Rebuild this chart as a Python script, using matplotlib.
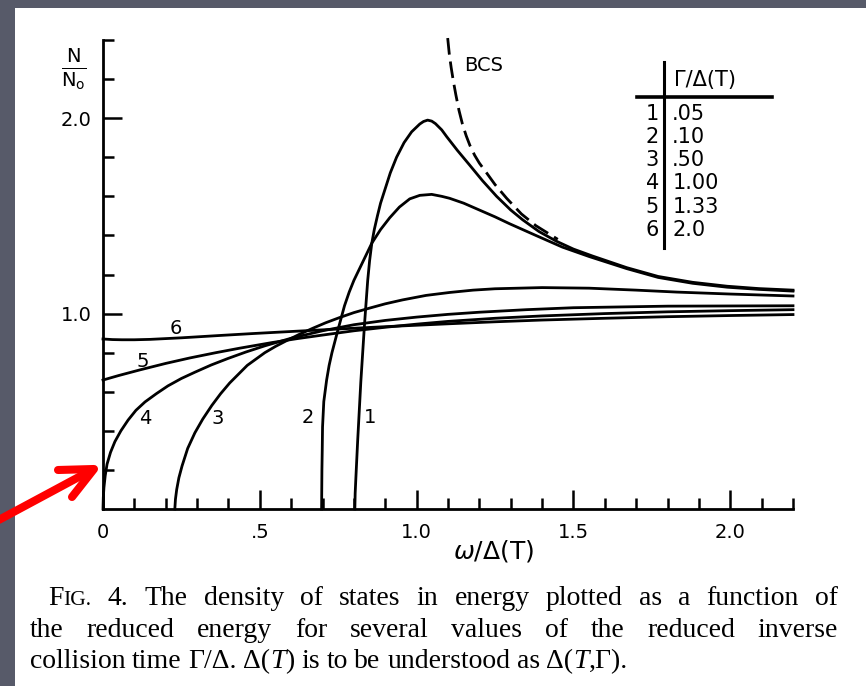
import numpy as np
import matplotlib.pyplot as plt
from matplotlib.patches import Rectangle
from matplotlib.lines import Line2D
"""
Density of states N/N0 vs reduced energy for several Gamma/Delta values
(scanned figure on a slide), redrawn by hand.
"""

# curves: omega/Delta(T) and N/N0
w1 = [0.803, 0.804, 0.806, 0.809, 0.812, 0.817, 0.822, 0.828, 0.834, 0.839, 0.844, 0.850, 0.857,
      0.865, 0.875, 0.885, 0.898, 0.916, 0.936, 0.96, 0.984, 1.01, 1.022, 1.035, 1.048, 1.06,
      1.08, 1.096, 1.13, 1.169, 1.21, 1.255, 1.30, 1.338, 1.39, 1.446, 1.50, 1.56, 1.67, 1.77,
      1.88, 1.99, 2.09, 2.2]
n1 = [0.0, 0.08, 0.15, 0.25, 0.35, 0.50, 0.65, 0.80, 0.95, 1.06, 1.17, 1.27, 1.36,
      1.43, 1.50, 1.565, 1.63, 1.72, 1.80, 1.875, 1.93, 1.97, 1.983, 1.99, 1.985, 1.972,
      1.94, 1.905, 1.835, 1.76, 1.68, 1.60, 1.53, 1.48, 1.42, 1.37, 1.33, 1.295, 1.235, 1.19,
      1.16, 1.14, 1.128, 1.12]

w2 = [0.697, 0.6975, 0.698, 0.699, 0.700, 0.704, 0.713, 0.721, 0.730, 0.748, 0.770, 0.785,
      0.800, 0.815, 0.830, 0.857, 0.885, 0.914, 0.945, 0.978, 1.01, 1.048, 1.08, 1.105, 1.15,
      1.20, 1.25, 1.296, 1.38, 1.465, 1.55, 1.67, 1.77, 1.88, 1.99, 2.09, 2.2]
n2 = [0.0, 0.1, 0.2, 0.3, 0.42, 0.55, 0.66, 0.735, 0.80, 0.91, 1.04, 1.11,
      1.17, 1.22, 1.27, 1.36, 1.43, 1.49, 1.545, 1.587, 1.605, 1.61, 1.60, 1.59, 1.565,
      1.53, 1.495, 1.46, 1.40, 1.34, 1.292, 1.23, 1.185, 1.155, 1.135, 1.124, 1.115]

w3 = [0.229, 0.231, 0.235, 0.242, 0.252, 0.27, 0.293, 0.318, 0.347, 0.375, 0.404, 0.46, 0.516,
      0.55, 0.586, 0.625, 0.669, 0.71, 0.755, 0.8, 0.85, 0.9, 0.955, 1.03, 1.105, 1.18, 1.25,
      1.4, 1.55, 1.7, 1.83, 2.0, 2.2]
n3 = [0.0, 0.05, 0.10, 0.16, 0.22, 0.31, 0.39, 0.46, 0.53, 0.59, 0.645, 0.735, 0.80,
      0.832, 0.862, 0.893, 0.925, 0.953, 0.98, 1.005, 1.028, 1.05, 1.07, 1.093, 1.108, 1.12, 1.127,
      1.133, 1.13, 1.12, 1.11, 1.10, 1.09]

w4 = [0.0, 0.001, 0.003, 0.007, 0.013, 0.024, 0.038, 0.057, 0.08, 0.105, 0.134, 0.17, 0.207,
      0.25, 0.293, 0.345, 0.398, 0.455, 0.516, 0.6, 0.7, 0.8, 0.9, 1.0, 1.1, 1.2, 1.35, 1.5,
      1.8, 2.2]
n4 = [0.0, 0.06, 0.11, 0.17, 0.23, 0.29, 0.345, 0.40, 0.455, 0.505, 0.548, 0.59, 0.63,
      0.668, 0.70, 0.737, 0.77, 0.803, 0.835, 0.874, 0.912, 0.943, 0.965, 0.982, 0.996, 1.007,
      1.02, 1.03, 1.038, 1.04]

w5 = [0.0, 0.05, 0.118, 0.2, 0.277, 0.36, 0.436, 0.54, 0.62, 0.7, 0.8, 0.9, 1.0, 1.1, 1.25,
      1.4, 1.6, 1.8, 2.0, 2.2]
n5 = [0.66, 0.683, 0.712, 0.745, 0.773, 0.80, 0.823, 0.852, 0.872, 0.89, 0.912, 0.93, 0.946, 0.96,
      0.976, 0.988, 1.0, 1.009, 1.015, 1.02]

w6 = [0.0, 0.03, 0.06, 0.1, 0.15, 0.25, 0.373, 0.48, 0.596, 0.75, 0.9, 1.105, 1.25, 1.4, 1.6,
      1.8, 2.0, 2.2]
n6 = [0.87, 0.867, 0.866, 0.866, 0.868, 0.876, 0.888, 0.898, 0.908, 0.921, 0.933, 0.948, 0.958,
      0.967, 0.976, 0.984, 0.99, 0.995]

w_bcs = [1.099, 1.104, 1.11, 1.117, 1.125, 1.135, 1.146, 1.158, 1.17, 1.185, 1.2, 1.223, 1.25,
         1.287, 1.334, 1.38, 1.45]
n_bcs = [2.41, 2.33, 2.26, 2.19, 2.12, 2.04, 1.97, 1.91, 1.86, 1.81, 1.77, 1.72, 1.66,
         1.59, 1.51, 1.45, 1.38]

curve_ids = ['1', '2', '3', '4', '5', '6']
gamma_vals = ['.05', '.10', '.50', '1.00', '1.33', '2.0']
xtick_vals = [0, 0.5, 1.0, 1.5, 2.0]
xtick_labels = ['0', '.5', '1.0', '1.5', '2.0']
ytick_vals = [1.0, 2.0]
ytick_labels = ['1.0', '2.0']

caption_1 = "4. The density of states in energy plotted as a function of"
caption_2 = "the reduced energy for several values of the reduced inverse"

W, H = 866, 686
plt.rcParams['mathtext.fontset'] = 'dejavusans'

fig = plt.figure(figsize=(W / 100, H / 100), dpi=100)
fig.patch.set_facecolor('#575a69')
fig.add_artist(Rectangle((15 / W, 0), 1, (H - 8) / H, transform=fig.transFigure,
                         facecolor='white', edgecolor='none', zorder=0))

ax = fig.add_axes([103 / W, (H - 509) / H, 690 / W, 469 / H])
ax.patch.set_alpha(0)
ax.set_xlim(0, 2.2)
ax.set_ylim(0, 2.4)
for s in ['top', 'right']:
    ax.spines[s].set_visible(False)
for s in ['left', 'bottom']:
    ax.spines[s].set_linewidth(2)

ax.set_xticks(xtick_vals, xtick_labels)
ax.set_xticks(np.arange(0, 2.21, 0.1), minor=True)
ax.set_yticks(ytick_vals, ytick_labels)
ax.set_yticks(np.arange(0.2, 2.41, 0.2), minor=True)
ax.tick_params(which='both', direction='in', width=1.8, colors='black')
ax.tick_params(which='major', length=14, labelsize=14)
ax.tick_params(axis='x', which='major', pad=10)
ax.tick_params(axis='y', which='major', pad=8)
ax.tick_params(which='minor', length=8)

lw = 2.0
for w, n in [(w1, n1), (w2, n2), (w3, n3), (w4, n4), (w5, n5), (w6, n6)]:
    ax.plot(w, n, color='black', lw=lw, clip_on=False, solid_joinstyle='round')
ax.plot(w_bcs, n_bcs, color='black', lw=lw, ls=(0, (6, 2.5)), clip_on=False)

# curve numbers
label_pos = [(0.851, 0.47), (0.654, 0.47), (0.367, 0.465), (0.134, 0.465), (0.128, 0.757), (0.233, 0.926)]
for cid, (x, y) in zip(curve_ids, label_pos):
    ax.text(x, y, cid, fontsize=14, ha='center', va='center')
ax.text(1.212, 2.27, 'BCS', fontsize=14, ha='center', va='center')

ax.text(1.244, -0.215, r'$\omega$/$\Delta$(T)', fontsize=18, ha='center', va='center')
ax.text(-0.093, 2.25, r'$\frac{\mathrm{N}}{\mathrm{N_o}}$', fontsize=20, ha='center', va='center')

# small table of Gamma/Delta values
ax.plot([1.789, 1.789], [1.335, 2.286], color='black', lw=2.2, clip_on=False)
ax.plot([1.703, 2.133], [2.107, 2.107], color='black', lw=2.6, clip_on=False)
ax.text(1.822, 2.194, 'Γ/Δ(T)', fontsize=15, ha='left', va='center')
row_y = [2.02, 1.903, 1.785, 1.668, 1.545, 1.427]
for cid, g, y in zip(curve_ids, gamma_vals, row_y):
    ax.text(1.772, y, cid, fontsize=15, ha='right', va='center')
    ax.text(1.815, y, g, fontsize=15, ha='left', va='center')


# red arrow on the slide, in figure pixels from the top left
def fig_line(xs, ys, **kw):
    fig.add_artist(Line2D([x / W for x in xs], [1 - y / H for y in ys],
                          transform=fig.transFigure, **kw))


arrow_kw = dict(color='red', lw=5.8, solid_capstyle='round', solid_joinstyle='round')
fig_line([-5, 90], [522, 471], **arrow_kw)
fig_line([58, 94, 72], [470, 469, 497], **arrow_kw)

# caption, justified by hand
renderer = fig.canvas.get_renderer()


def put_line(parts, x0, y, x1=None):
    # parts: (text, size, style, glued to the previous part)
    texts = []
    for s, size, style, glue in parts:
        texts.append(fig.text(0, 1 - y / H, s, fontsize=size, family='Liberation Serif',
                              style=style, va='baseline', ha='left'))
    widths = [t.get_window_extent(renderer).width for t in texts]
    nwords = sum(1 for p in parts if not p[3])
    if x1 is None:
        gap = 6.5
    else:
        gap = (x1 - x0 - sum(widths)) / (nwords - 1)
    x = x0
    for i, (p, t, wd) in enumerate(zip(parts, texts, widths)):
        if i > 0 and not p[3]:
            x += gap
        t.set_x(x / W)
        x += wd


cs = 20
n = 'normal'
line1 = [('F', cs, n, False), ('IG.', cs * 0.78, n, True)] + \
        [(w, cs, n, False) for w in caption_1.split(' ')]
put_line(line1, 48, 605, 838)
put_line([(w, cs, n, False) for w in caption_2.split(' ')], 30, 637, 838)
line3 = [('collision', cs, n, False), ('time', cs, n, False), ('Γ/Δ.', cs, n, False),
         ('Δ(', cs, n, False), ('T', cs, 'italic', True), (')', cs, n, True),
         ('is', cs, n, False), ('to', cs, n, False), ('be', cs, n, False),
         ('understood', cs, n, False), ('as', cs, n, False),
         ('Δ(', cs, n, False), ('T', cs, 'italic', True), (',Γ).', cs, n, True)]
put_line(line3, 30, 668)

fig.savefig('out.png', dpi=100)
